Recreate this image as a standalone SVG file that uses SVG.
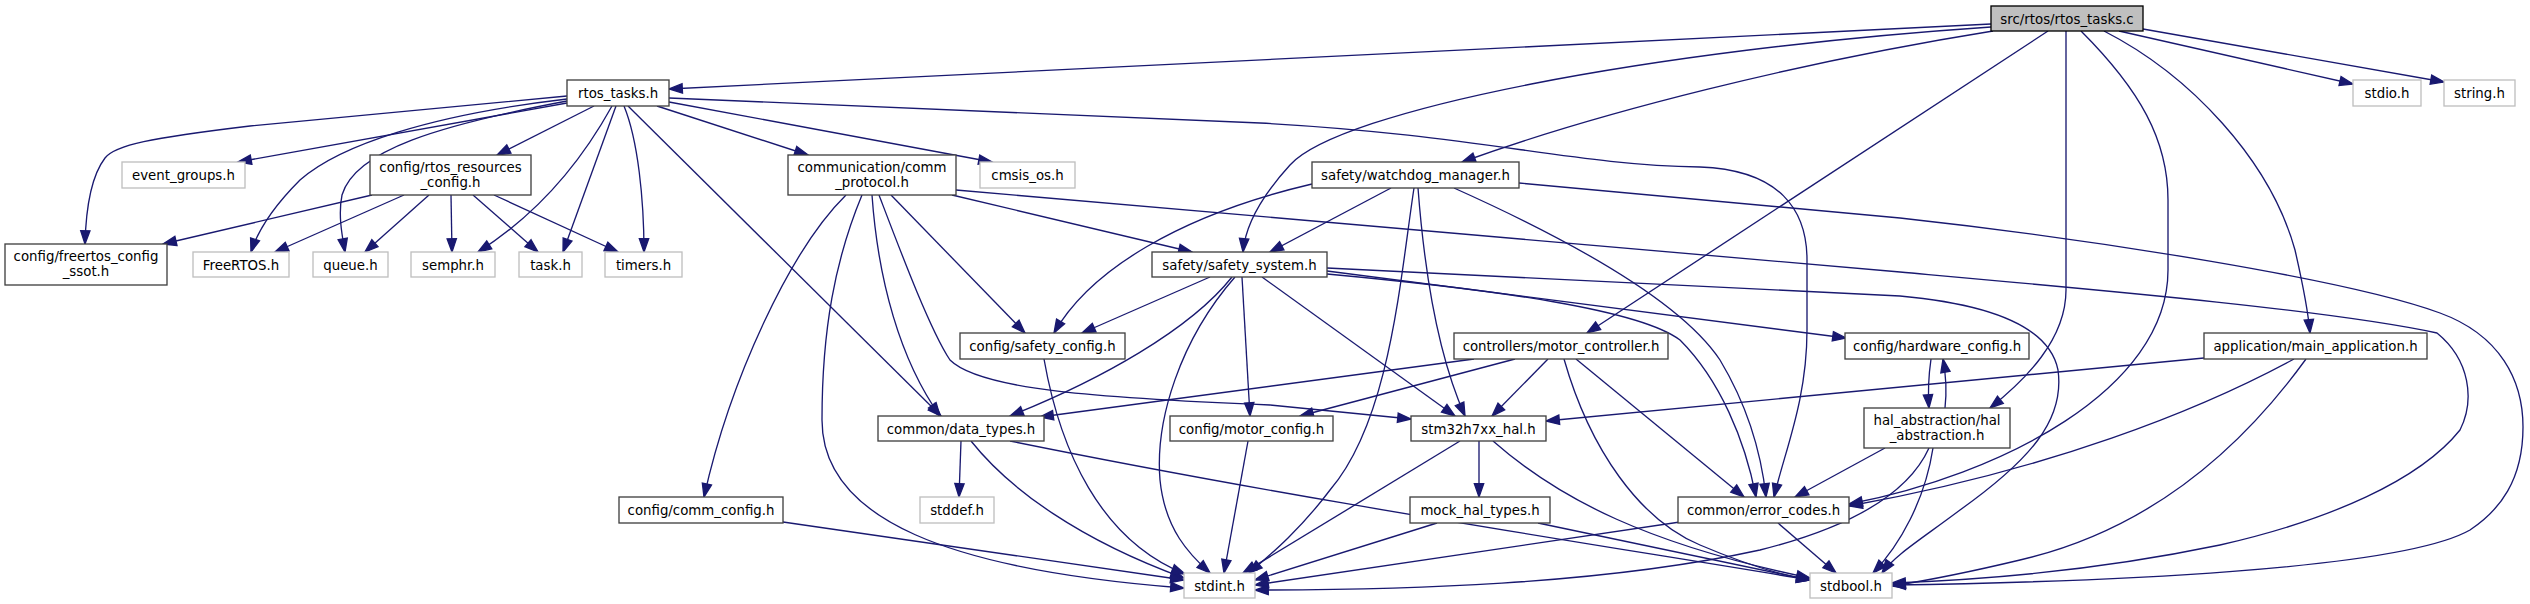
<svg xmlns="http://www.w3.org/2000/svg" width="2530" height="604" viewBox="0 0 2530 604">
<style>
.n rect{fill:#fff;stroke:#404040;stroke-width:1.33}
.s rect{fill:#fff;stroke:#bfbfbf;stroke-width:1.33}
.r rect{fill:#bfbfbf;stroke:#000;stroke-width:1.33}
text{font-family:"DejaVu Sans","Liberation Sans",sans-serif;font-size:13.33px;text-anchor:middle;fill:#000}
.e path{fill:none;stroke:#191970;stroke-width:1.33;marker-end:url(#a)}
</style>
<defs>
<marker id="a" markerUnits="userSpaceOnUse" markerWidth="16" markerHeight="12" refX="13.3" refY="4.67" orient="auto" overflow="visible">
<path d="M0,0 L13.3,4.67 L0,9.33 Z" fill="#191970" stroke="#191970" stroke-width="1.33"/>
</marker>
</defs>
<rect width="2530" height="604" fill="#fff"/>
<g class="e" id="edges">
<path d="M1991,24 L669,89"/>
<path d="M1991,27 C1650,50 1340,110 1290,165 C1258,200 1245,228 1243,252"/>
<path d="M1993,31 C1800,62 1600,112 1462,162"/>
<path d="M2048,31 L1587,333"/>
<path d="M2066,31 L2066,290 C2066,340 2025,380 1990,408"/>
<path d="M2081,31 C2140,90 2168,140 2168,200 L2168,270 C2168,390 2000,475 1849,504"/>
<path d="M2104,31 C2190,75 2270,160 2295,250 C2303,285 2308,310 2310,333"/>
<path d="M2119,31 L2353,84"/>
<path d="M2143,29 L2444,82"/>
<path d="M567,96 L250,126 C150,138 115,145 105,158 C92,175 86,205 85,244"/>
<path d="M567,103 L238,162"/>
<path d="M567,99 C430,115 340,145 300,180 C275,205 258,230 251,252"/>
<path d="M567,101 C440,125 355,150 342,195 C338,215 342,235 345,252"/>
<path d="M594,106 L497,155"/>
<path d="M612,106 Q560,200 478,252"/>
<path d="M616,106 L563,252"/>
<path d="M624,106 C638,140 644,200 644,252"/>
<path d="M628,106 L941,416"/>
<path d="M657,106 L808,155"/>
<path d="M669,102 L992,162"/>
<path d="M669,98 L1260,123 C1480,135 1570,165 1700,167 C1780,170 1807,210 1807,260 L1807,330 C1807,400 1785,450 1774,497"/>
<path d="M372,195 L163,244"/>
<path d="M404,195 L275,252"/>
<path d="M429,195 L365,252"/>
<path d="M451,195 L452,252"/>
<path d="M473,195 L538,252"/>
<path d="M494,195 L618,252"/>
<path d="M846,195 C790,250 730,380 704,497"/>
<path d="M862,195 C835,260 822,330 822,420 C822,520 950,570 1184,588"/>
<path d="M872,195 C878,280 900,360 940,416"/>
<path d="M879,195 C900,250 930,330 950,360 C980,390 1100,398 1270,405 L1411,419"/>
<path d="M891,195 L1025,333"/>
<path d="M952,195 L1192,252"/>
<path d="M956,190 L1900,272 C2100,290 2330,310 2437,333 C2470,360 2475,400 2460,430 C2420,480 2330,520 2220,545 C2100,570 1980,580 1892,583"/>
<path d="M1210,277 L1082,333"/>
<path d="M1232,277 C1190,330 1100,380 1010,416"/>
<path d="M1235,277 C1180,340 1155,420 1160,480 C1165,530 1190,555 1210,573"/>
<path d="M1242,277 L1250,416"/>
<path d="M1262,277 L1455,416"/>
<path d="M1327,271 L1846,338"/>
<path d="M1327,274 C1500,290 1640,310 1680,340 C1720,380 1745,440 1756,497"/>
<path d="M1327,268 L1900,296 C2000,305 2050,330 2058,370 C2065,420 2030,460 1960,510 C1920,540 1895,555 1882,573"/>
<path d="M1391,188 L1270,252"/>
<path d="M1312,184 C1180,215 1090,270 1054,333"/>
<path d="M1414,188 C1400,280 1390,420 1330,490 C1300,530 1270,555 1249,573"/>
<path d="M1418,188 C1425,280 1440,360 1465,416"/>
<path d="M1454,188 C1570,240 1680,300 1720,360 C1750,410 1762,460 1766,497"/>
<path d="M1519,183 L1900,218 C2100,240 2350,280 2440,313 C2500,335 2523,380 2523,427 C2523,480 2500,510 2470,530 C2400,570 2100,582 1892,585"/>
<path d="M961,441 L959,497"/>
<path d="M971,441 C1010,490 1080,540 1184,578"/>
<path d="M1010,441 C1300,500 1600,545 1810,580"/>
<path d="M1044,359 C1060,450 1100,540 1185,574"/>
<path d="M1248,441 L1224,573"/>
<path d="M783,522 L1184,580"/>
<path d="M1474,359 L1040,417"/>
<path d="M1515,359 L1300,416"/>
<path d="M1548,359 L1492,416"/>
<path d="M1564,359 C1590,450 1640,520 1700,545 C1740,562 1780,575 1810,580"/>
<path d="M1576,359 L1744,497"/>
<path d="M1479,441 L1479,497"/>
<path d="M1460,441 L1243,573"/>
<path d="M1493,441 C1560,500 1650,545 1810,578"/>
<path d="M1437,523 L1255,580"/>
<path d="M1538,523 L1810,580"/>
<path d="M1680,522 L1255,585"/>
<path d="M1778,523 L1836,573"/>
<path d="M1931,359 C1928,380 1928,395 1929,408"/>
<path d="M1945,408 C1947,390 1946,375 1943,359"/>
<path d="M1885,448 L1795,497"/>
<path d="M1929,448 C1910,490 1860,525 1760,550 C1600,585 1400,590 1255,590"/>
<path d="M1933,448 C1925,500 1900,545 1873,573"/>
<path d="M2204,358 L1546,421"/>
<path d="M2294,359 C2200,410 2050,470 1849,506"/>
<path d="M2306,359 C2240,450 2150,530 2020,560 C1970,572 1930,580 1892,586"/>
</g>
<g id="src_rtos_tasks_c" class="r"><rect x="1991" y="6" width="152" height="25"/><text x="2067" y="23.5">src/rtos/rtos_tasks.c</text></g>
<g id="rtos_tasks_h" class="n"><rect x="567" y="80" width="102" height="26"/><text x="618" y="98">rtos_tasks.h</text></g>
<g id="stdio_h" class="s"><rect x="2353" y="80" width="68" height="26"/><text x="2387" y="98">stdio.h</text></g>
<g id="string_h" class="s"><rect x="2444" y="80" width="71" height="26"/><text x="2479.5" y="98">string.h</text></g>
<g id="event_groups_h" class="s"><rect x="122" y="162" width="123" height="26"/><text x="183.5" y="180">event_groups.h</text></g>
<g id="rtos_resources_config_h" class="n"><rect x="370" y="155" width="161" height="40"/><text x="450.5" y="171.5">config/rtos_resources</text><text x="450.5" y="186.5">_config.h</text></g>
<g id="comm_protocol_h" class="n"><rect x="788" y="155" width="168" height="40"/><text x="872" y="171.5">communication/comm</text><text x="872" y="186.5">_protocol.h</text></g>
<g id="cmsis_os_h" class="s"><rect x="980" y="162" width="95" height="26"/><text x="1027.5" y="180">cmsis_os.h</text></g>
<g id="watchdog_manager_h" class="n"><rect x="1312" y="162" width="207" height="26"/><text x="1415.5" y="180">safety/watchdog_manager.h</text></g>
<g id="freertos_config_ssot_h" class="n"><rect x="5" y="244" width="162" height="41"/><text x="86" y="260.5">config/freertos_config</text><text x="86" y="275.5">_ssot.h</text></g>
<g id="FreeRTOS_h" class="s"><rect x="193" y="252" width="96" height="25"/><text x="241" y="269.5">FreeRTOS.h</text></g>
<g id="queue_h" class="s"><rect x="313" y="252" width="75" height="25"/><text x="350.5" y="269.5">queue.h</text></g>
<g id="semphr_h" class="s"><rect x="411" y="252" width="84" height="25"/><text x="453" y="269.5">semphr.h</text></g>
<g id="task_h" class="s"><rect x="519" y="252" width="63" height="25"/><text x="550.5" y="269.5">task.h</text></g>
<g id="timers_h" class="s"><rect x="605" y="252" width="77" height="25"/><text x="643.5" y="269.5">timers.h</text></g>
<g id="safety_system_h" class="n"><rect x="1152" y="252" width="175" height="25"/><text x="1239.5" y="269.5">safety/safety_system.h</text></g>
<g id="safety_config_h" class="n"><rect x="960" y="333" width="165" height="26"/><text x="1042.5" y="351">config/safety_config.h</text></g>
<g id="motor_controller_h" class="n"><rect x="1454" y="333" width="214" height="26"/><text x="1561" y="351">controllers/motor_controller.h</text></g>
<g id="hardware_config_h" class="n"><rect x="1845" y="333" width="184" height="26"/><text x="1937" y="351">config/hardware_config.h</text></g>
<g id="main_application_h" class="n"><rect x="2204" y="333" width="223" height="26"/><text x="2315.5" y="351">application/main_application.h</text></g>
<g id="data_types_h" class="n"><rect x="878" y="416" width="166" height="25"/><text x="961" y="433.5">common/data_types.h</text></g>
<g id="motor_config_h" class="n"><rect x="1170" y="416" width="163" height="25"/><text x="1251.5" y="433.5">config/motor_config.h</text></g>
<g id="stm32h7xx_hal_h" class="n"><rect x="1411" y="416" width="135" height="25"/><text x="1478.5" y="433.5">stm32h7xx_hal.h</text></g>
<g id="hal_abstraction_h" class="n"><rect x="1864" y="408" width="146" height="40"/><text x="1937" y="424.5">hal_abstraction/hal</text><text x="1937" y="439.5">_abstraction.h</text></g>
<g id="comm_config_h" class="n"><rect x="619" y="497" width="164" height="26"/><text x="701" y="515">config/comm_config.h</text></g>
<g id="stddef_h" class="s"><rect x="920" y="497" width="74" height="26"/><text x="957" y="515">stddef.h</text></g>
<g id="mock_hal_types_h" class="n"><rect x="1410" y="497" width="140" height="26"/><text x="1480" y="515">mock_hal_types.h</text></g>
<g id="error_codes_h" class="n"><rect x="1678" y="497" width="171" height="26"/><text x="1763.5" y="515">common/error_codes.h</text></g>
<g id="stdint_h" class="s"><rect x="1184" y="573" width="71" height="25"/><text x="1219.5" y="590.5">stdint.h</text></g>
<g id="stdbool_h" class="s"><rect x="1810" y="573" width="82" height="25"/><text x="1851" y="590.5">stdbool.h</text></g>
</svg>
